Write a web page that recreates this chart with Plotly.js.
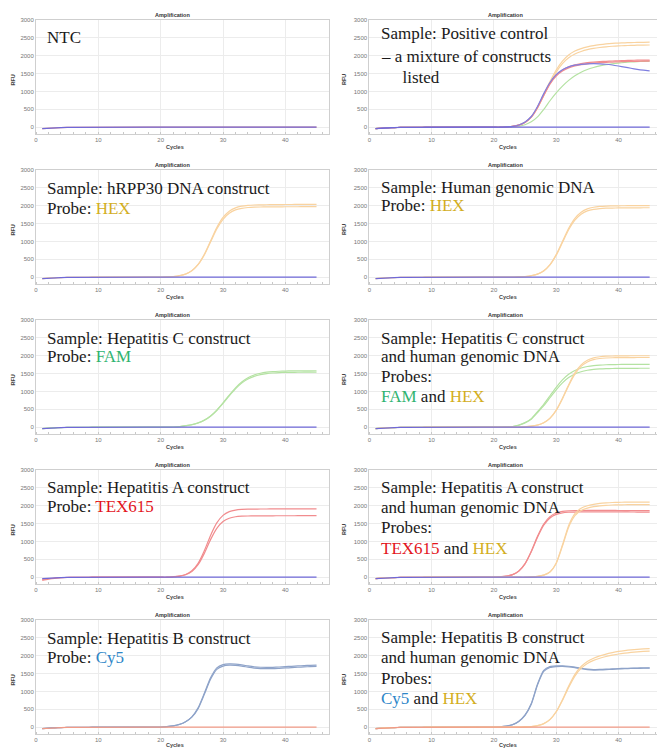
<!DOCTYPE html>
<html><head><meta charset="utf-8">
<script src="https://cdn.plot.ly/plotly-3.0.1.min.js"></script>
<style>html,body{margin:0;padding:0;background:#fff}#chart{width:657px;height:749px}</style>
</head><body><div id="chart"></div>
<script>
// ---------- data (RFU per cycle) ----------
const cycles = [1,2,3,4,5,6,7,8,9,10,11,12,13,14,15,16,17,18,19,20,21,22,23,24,25,26,27,28,29,30,31,32,33,34,35,36,37,38,39,40,41,42,43,44,45];
const yTicks = [0,500,1000,1500,2000,2500,3000];
const xTicks = [0,10,20,30,40];

const baseline = [-40,-26,-16,-10,-6,-4,-2,-1,0,0,0,0,0,0,0,0,0,0,0,0,0,0,0,0,0,0,0,0,0,0,0,0,0,0,0,0,0,0,0,0,0,0,0,0,0];

// Positive control
const posHexA = [-40,-26,-16,-10,-6,-4,-2,-1,0,0,0,0,0,0,0,0,0,0,0,0,0,10,25,60,140,290,560,920,1280,1600,1850,2020,2130,2200,2250,2285,2310,2330,2345,2355,2362,2368,2372,2376,2380];
const posHexB = [-40,-26,-16,-10,-6,-4,-2,-1,0,0,0,0,0,0,0,0,0,0,0,0,0,10,24,57,133,276,535,880,1230,1540,1780,1945,2050,2120,2170,2205,2230,2250,2265,2275,2283,2290,2295,2298,2300];
const posTexA = [-40,-26,-16,-10,-6,-4,-2,-1,0,0,0,0,0,0,0,0,0,0,0,0,0,10,25,60,140,290,560,910,1230,1460,1600,1690,1745,1780,1805,1822,1835,1845,1853,1860,1866,1871,1875,1878,1880];
const posTexB = [-40,-26,-16,-10,-6,-4,-2,-1,0,0,0,0,0,0,0,0,0,0,0,0,0,10,24,58,135,280,545,890,1205,1430,1570,1660,1715,1750,1775,1792,1805,1815,1823,1830,1836,1841,1845,1848,1850];
const posCy5 = [-40,-26,-16,-10,-6,-4,-2,-1,0,0,0,0,0,0,0,0,0,0,0,0,0,10,25,62,145,300,580,940,1250,1470,1610,1690,1735,1760,1775,1780,1775,1762,1740,1712,1680,1650,1620,1595,1575];
const posFam = [-40,-26,-16,-10,-6,-4,-2,-1,0,0,0,0,0,0,0,0,0,0,0,0,0,0,10,30,70,150,290,500,740,960,1150,1310,1440,1540,1615,1670,1715,1750,1775,1795,1812,1825,1835,1843,1850];

// hRPP30 construct (HEX)
const rppHexA = [-40,-26,-16,-10,-6,-4,-2,-1,0,0,0,0,0,0,0,0,0,0,0,0,9,20,42,89,184,359,641,1015,1389,1671,1846,1941,1987,2010,2021,2025,2028,2030,2032,2034,2035,2036,2036,2037,2037];
const rppHexB = [-40,-26,-16,-10,-6,-4,-2,-1,0,0,0,0,0,0,0,0,0,0,0,0,9,19,41,86,178,349,622,985,1347,1621,1791,1883,1928,1950,1961,1965,1967,1969,1970,1971,1972,1972,1973,1973,1974];

// Human genomic DNA (HEX)
const gdnaHexA = [-40,-26,-16,-10,-6,-4,-2,-1,0,0,0,0,0,0,0,0,0,0,0,0,0,0,0,9,20,42,88,181,354,632,1000,1368,1646,1819,1912,1958,1980,1991,1995,1998,2000,2001,2002,2003,2003];
const gdnaHexB = [-40,-26,-16,-10,-6,-4,-2,-1,0,0,0,0,0,0,0,0,0,0,0,0,0,0,0,9,19,41,85,176,343,613,970,1327,1597,1764,1855,1899,1921,1931,1935,1938,1940,1941,1942,1943,1943];

// Hepatitis C (FAM)
const hcvFamA = [-40,-26,-16,-10,-6,-4,-2,-1,0,0,0,0,0,0,0,0,0,0,0,0,2,6,14,41,71,120,198,315,479,681,899,1101,1265,1383,1460,1509,1539,1556,1566,1572,1575,1577,1578,1579,1580];
const hcvFamB = [-40,-26,-16,-10,-6,-4,-2,-1,0,0,0,0,0,0,0,0,0,0,0,0,2,6,14,40,69,117,193,307,467,664,877,1073,1233,1348,1424,1471,1501,1517,1527,1533,1536,1538,1539,1540,1541];

// Hepatitis C + gDNA (FAM, HEX)
const hcvMixFamA = [-40,-26,-16,-10,-6,-4,-2,-1,0,0,0,0,0,0,0,0,0,0,0,0,0,10,20,60,130,240,436,642,880,1118,1324,1480,1588,1657,1699,1725,1740,1748,1752,1755,1757,1758,1759,1760,1760];
const hcvMixFamB = [-40,-26,-16,-10,-6,-4,-2,-1,0,0,0,0,0,0,0,0,0,0,0,0,0,9,19,56,122,225,409,602,825,1048,1241,1388,1489,1553,1593,1617,1631,1639,1643,1646,1647,1648,1649,1650,1650];
const hcvMixHexA = [-40,-26,-16,-10,-6,-4,-2,-1,0,0,0,0,0,0,0,0,0,0,0,0,0,0,0,0,13,29,61,127,255,480,810,1190,1520,1745,1873,1939,1971,1987,1993,1996,1998,1999,2000,2000,2000];
const hcvMixHexB = [-40,-26,-16,-10,-6,-4,-2,-1,0,0,0,0,0,0,0,0,0,0,0,0,0,0,0,0,13,28,59,124,249,468,790,1160,1482,1701,1826,1891,1922,1937,1943,1946,1948,1949,1950,1950,1950];

// Hepatitis A (TEX615)
const havTexA = [-90,-55,-30,-15,-8,-4,-2,-1,0,0,0,0,0,0,0,0,0,0,0,0,0,13,31,76,179,389,741,1169,1520,1731,1834,1879,1897,1903,1906,1908,1909,1910,1910,1910,1910,1910,1910,1910,1910];
const havTexB = [-60,-40,-22,-12,-6,-4,-2,-1,0,0,0,0,0,0,0,0,0,0,0,0,0,12,28,68,161,350,667,1052,1368,1558,1651,1691,1707,1713,1716,1717,1718,1719,1720,1720,1720,1721,1722,1723,1724];

// Hepatitis A + gDNA (TEX615, HEX)
const havMixTexA = [-40,-26,-16,-10,-6,-4,-2,-1,0,0,0,0,0,0,0,0,0,0,0,0,13,31,74,175,381,726,1144,1489,1695,1795,1840,1857,1863,1866,1868,1869,1870,1869,1868,1867,1866,1865,1864,1863,1862];
const havMixTexB = [-40,-26,-16,-10,-6,-4,-2,-1,0,0,0,0,0,0,0,0,0,0,0,0,13,30,72,171,373,711,1120,1458,1659,1757,1802,1818,1824,1827,1829,1830,1830,1829,1828,1827,1826,1825,1824,1823,1822];
const havMixHexA = [-40,-26,-16,-10,-6,-4,-2,-1,0,0,0,0,0,0,0,0,0,0,0,0,0,0,0,0,0,10,25,60,150,400,900,1450,1780,1930,2000,2040,2065,2080,2090,2095,2100,2100,2100,2100,2100];
const havMixHexB = [-40,-26,-16,-10,-6,-4,-2,-1,0,0,0,0,0,0,0,0,0,0,0,0,0,0,0,0,0,10,24,58,145,385,870,1400,1720,1865,1935,1975,1998,2012,2020,2025,2028,2030,2030,2030,2030];

// Hepatitis B (Cy5)
const hbvCy5A = [-40,-26,-16,-10,-6,-4,-2,-1,0,0,0,0,0,0,0,0,0,0,0,5,15,35,75,150,280,520,920,1340,1620,1710,1735,1730,1710,1680,1655,1640,1638,1640,1648,1658,1668,1678,1688,1695,1700];
const hbvCy5B = [-40,-26,-16,-10,-6,-4,-2,-1,0,0,0,0,0,0,0,0,0,0,0,5,15,35,78,155,290,540,950,1380,1660,1750,1770,1765,1745,1715,1690,1678,1675,1677,1685,1695,1705,1715,1725,1733,1740];

// Hepatitis B + gDNA (Cy5, HEX)
const hbvMixCy5A = [-40,-26,-16,-10,-6,-4,-2,-1,0,0,0,0,0,0,0,0,0,0,0,5,12,30,70,160,330,640,1180,1560,1670,1695,1700,1690,1665,1635,1612,1600,1602,1610,1620,1630,1638,1643,1647,1650,1652];
const hbvMixCy5B = [-40,-26,-16,-10,-6,-4,-2,-1,0,0,0,0,0,0,0,0,0,0,0,5,12,32,74,168,345,665,1210,1590,1695,1715,1718,1706,1680,1650,1627,1615,1616,1623,1632,1641,1648,1653,1657,1660,1662];
const hbvMixHexA = [-40,-26,-16,-10,-6,-4,-2,-1,0,0,0,0,0,0,0,0,0,0,0,0,0,0,0,0,8,20,45,100,220,440,770,1150,1480,1700,1840,1930,1995,2045,2085,2120,2145,2165,2180,2192,2200];
const hbvMixHexB = [-40,-26,-16,-10,-6,-4,-2,-1,0,0,0,0,0,0,0,0,0,0,0,0,0,0,0,0,8,19,43,96,212,425,745,1110,1430,1645,1780,1870,1930,1978,2015,2048,2072,2092,2108,2120,2130];

// ---------- styling ----------
const C = {hex:'#f9d3a0', tex:'#f18c8e', fam:'#b4e2a2', cy5:'#8ea3c9', pos:'#7f7fe0', base:'#6f68d8', baseRed:'#f19a86'};
const T = {hex:'#d3ae1e', fam:'#2fb36f', tex:'#e3141c', cy5:'#2d86c8'};
const sp = (c, t) => '<span style="color:' + c + '">' + t + '</span>';

const panels = [
  {row:0,col:0, curves:[], base:[C.baseRed, C.base], text:['NTC'], ty:[37.5]},
  {row:0,col:1, curves:[[posFam,C.fam],[posHexA,C.hex],[posHexB,C.hex],[posTexA,C.tex],[posTexB,C.tex],[posCy5,C.pos]], base:[C.base],
    text:['Sample: Positive control','– a mixture of constructs','  listed'], ty:[34,56,77], tx:[379,379,392]},
  {row:1,col:0, curves:[[rppHexA,C.hex],[rppHexB,C.hex]], base:[C.base],
    text:['Sample: hRPP30 DNA construct','Probe: '+sp(T.hex,'HEX')], ty:[188,208]},
  {row:1,col:1, curves:[[gdnaHexA,C.hex],[gdnaHexB,C.hex]], base:[C.base],
    text:['Sample: Human genomic DNA','Probe: '+sp(T.hex,'HEX')], ty:[187,206]},
  {row:2,col:0, curves:[[hcvFamA,C.fam],[hcvFamB,C.fam]], base:[C.base],
    text:['Sample: Hepatitis C construct','Probe: '+sp(T.fam,'FAM')], ty:[338,357]},
  {row:2,col:1, curves:[[hcvMixFamA,C.fam],[hcvMixFamB,C.fam],[hcvMixHexA,C.hex],[hcvMixHexB,C.hex]], base:[C.base],
    text:['Sample: Hepatitis C construct','and human genomic DNA','Probes:',sp(T.fam,'FAM')+' and '+sp(T.hex,'HEX')], ty:[338,357,376,396]},
  {row:3,col:0, curves:[[havTexA,C.tex],[havTexB,C.tex]], base:[C.base],
    text:['Sample: Hepatitis A construct','Probe: '+sp(T.tex,'TEX615')], ty:[487,506]},
  {row:3,col:1, curves:[[havMixTexA,C.tex],[havMixTexB,C.tex],[havMixHexA,C.hex],[havMixHexB,C.hex]], base:[C.base],
    text:['Sample: Hepatitis A construct','and human genomic DNA','Probes:',sp(T.tex,'TEX615')+' and '+sp(T.hex,'HEX')], ty:[487,507,527,548]},
  {row:4,col:0, curves:[[hbvCy5A,C.cy5],[hbvCy5B,C.cy5]], base:[C.baseRed],
    text:['Sample: Hepatitis B construct','Probe: '+sp(T.cy5,'Cy5')], ty:[638,657]},
  {row:4,col:1, curves:[[hbvMixCy5A,C.cy5],[hbvMixCy5B,C.cy5],[hbvMixHexA,C.hex],[hbvMixHexB,C.hex]], base:[C.baseRed],
    text:['Sample: Hepatitis B construct','and human genomic DNA','Probes:',sp(T.cy5,'Cy5')+' and '+sp(T.hex,'HEX')], ty:[637,657,678,698]}
];

const W = 657, H = 749;
const colX0 = [36, 369.3], colX1 = [329, 657], colXMax = [47, 46.18];
const rowTop = [20, 170, 320, 470, 620], plotH = 114;
const textX = [45, 379];
const smallFont = {family:'Liberation Sans, Arial, sans-serif', size:6, color:'#777'};

const data = [];
const layout = {width:W, height:H, margin:{l:0,r:0,t:0,b:0}, paper_bgcolor:'#fff', plot_bgcolor:'#fff', showlegend:false, annotations:[]};

panels.forEach((p, i) => {
  const n = i + 1;
  const xa = 'x' + n, ya = 'y' + n;
  const top = rowTop[p.row];
  layout['xaxis' + n] = {
    domain:[colX0[p.col]/W, colX1[p.col]/W], range:[0, colXMax[p.col]], anchor:ya,
    tickmode:'array', tickvals:xTicks, ticks:'', showgrid:true, gridcolor:'#ececec', gridwidth:1,
    showline:true, linecolor:'#cfcfcf', linewidth:1, mirror:true, zeroline:false,
    tickfont:smallFont, fixedrange:true,
    minor:{tickmode:'linear', tick0:0, dtick:2, ticks:'inside', ticklen:2, tickcolor:'#c8c8c8', showgrid:false}
  };
  layout['yaxis' + n] = {
    domain:[1 - (top + plotH)/H, 1 - top/H], range:[-190, 3000], anchor:xa,
    tickmode:'array', tickvals:yTicks, ticks:'', showgrid:true, gridcolor:'#ececec', gridwidth:1,
    showline:true, linecolor:'#cfcfcf', linewidth:1, mirror:true, zeroline:false,
    tickfont:smallFont, fixedrange:true
  };
  p.curves.forEach(c => data.push({x:cycles, y:c[0], xaxis:xa, yaxis:ya, type:'scatter', mode:'lines',
    line:{color:c[1], width:1.2, shape:'spline', smoothing:0.6}, hoverinfo:'skip'}));
  p.base.forEach(bc => data.push({x:cycles, y:baseline, xaxis:xa, yaxis:ya, type:'scatter', mode:'lines',
    line:{color:bc, width:1.2}, hoverinfo:'skip'}));

  const cx = p.col === 0 ? 172 : 505;
  layout.annotations.push({xref:'paper', yref:'paper', x:cx/W, y:1-(top-5)/H, text:'<b>Amplification</b>', showarrow:false,
    xanchor:'center', yanchor:'middle', font:{family:'Liberation Sans, Arial, sans-serif', size:5.5, color:'#333'}});
  layout.annotations.push({xref:'paper', yref:'paper', x:(cx+3)/W, y:1-Math.min(top+127, 745)/H, text:'<b>Cycles</b>', showarrow:false,
    xanchor:'center', yanchor:'middle', font:{family:'Liberation Sans, Arial, sans-serif', size:5.5, color:'#444'}});
  layout.annotations.push({xref:'paper', yref:'paper', x:(p.col === 0 ? 12.5 : 344)/W, y:1-(top+60)/H, text:'<b>RFU</b>', showarrow:false,
    textangle:-90, xanchor:'center', yanchor:'middle', font:{family:'Liberation Sans, Arial, sans-serif', size:5.5, color:'#444'}});

  p.text.forEach((t, k) => {
    const tx = p.tx ? p.tx[k] : textX[p.col];
    layout.annotations.push({xref:'paper', yref:'paper', x:tx/W, y:1-p.ty[k]/H, text:t.replace(/^  /, '\u00a0\u00a0'), showarrow:false,
      xanchor:'left', yanchor:'middle', font:{family:'Liberation Serif, Times New Roman, serif', size:17, color:'#1a1a1a'}});
  });
});

Plotly.newPlot('chart', data, layout, {displayModeBar:false, staticPlot:true});
</script>
</body></html>
